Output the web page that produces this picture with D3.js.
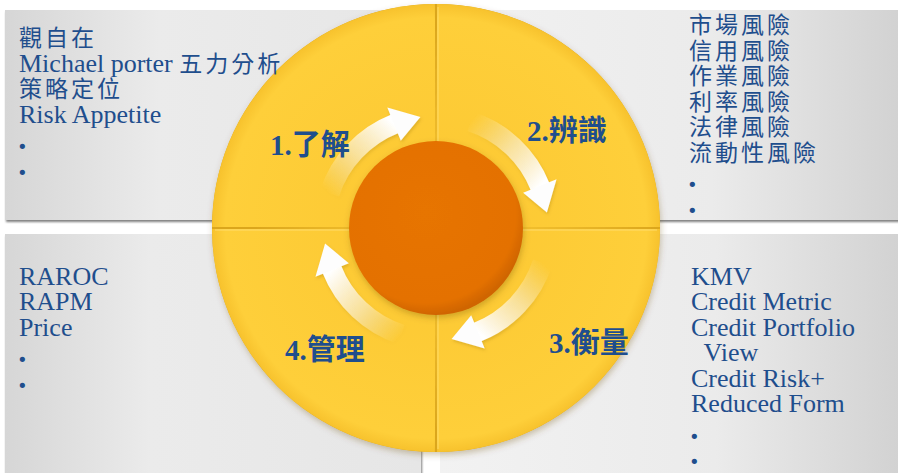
<!DOCTYPE html>
<html>
<head>
<meta charset="utf-8">
<script src="https://cdn.jsdelivr.net/npm/d3@7"></script>
<style>
  html, body { margin: 0; padding: 0; background: #ffffff; }
  svg { display: block; }
</style>
</head>
<body>
<svg id="chart" width="898" height="473"></svg>
<script>
var width = 898;
var height = 473;

// diagram content
var stages = ['1.了解', '2.辨識', '3.衡量', '4.管理'];
var topLeftItems = ['觀自在', 'Michael porter 五力分析', '策略定位', 'Risk Appetite', '•', '•'];
var topRightItems = ['市場風險', '信用風險', '作業風險', '利率風險', '法律風險', '流動性風險', '•', '•'];
var bottomLeftItems = ['RAROC', 'RAPM', 'Price', '•', '•'];
var bottomRightItems = ['KMV', 'Credit Metric', 'Credit Portfolio', '  View', 'Credit Risk+', 'Reduced Form', '•', '•'];

var cx = 436, cy = 228;
var outerR = 224, innerR = 87;
var textColor = '#1f4e8d';

var svg = d3.select('#chart');
var defs = svg.append('defs');

// ---- filters / gradients
var sh = defs.append('filter').attr('id', 'panelShadow')
  .attr('x', '-5%').attr('y', '-5%').attr('width', '110%').attr('height', '115%');
sh.append('feDropShadow').attr('dx', 1).attr('dy', 2).attr('stdDeviation', 1.2)
  .attr('flood-color', '#000').attr('flood-opacity', 0.5);

var cs = defs.append('filter').attr('id', 'circleShadow')
  .attr('x', '-10%').attr('y', '-10%').attr('width', '120%').attr('height', '120%');
cs.append('feDropShadow').attr('dx', 1).attr('dy', 3).attr('stdDeviation', 3)
  .attr('flood-color', '#6b4a00').attr('flood-opacity', 0.3);

var as = defs.append('filter').attr('id', 'arrowShadow')
  .attr('x', '-20%').attr('y', '-20%').attr('width', '140%').attr('height', '140%');
as.append('feDropShadow').attr('dx', 1).attr('dy', 2).attr('stdDeviation', 1.5)
  .attr('flood-color', '#8a6000').attr('flood-opacity', 0.25);

var gl = defs.append('linearGradient').attr('id', 'panelLeft')
  .attr('x1', '0%').attr('x2', '100%').attr('y1', '0%').attr('y2', '0%');
gl.append('stop').attr('offset', '0%').attr('stop-color', '#d6d6d6');
gl.append('stop').attr('offset', '35%').attr('stop-color', '#ebebeb');
gl.append('stop').attr('offset', '100%').attr('stop-color', '#e6e6e6');

var gr = defs.append('linearGradient').attr('id', 'panelRight')
  .attr('x1', '0%').attr('x2', '100%').attr('y1', '0%').attr('y2', '0%');
gr.append('stop').attr('offset', '0%').attr('stop-color', '#f2f2f2');
gr.append('stop').attr('offset', '60%').attr('stop-color', '#ebebeb');
gr.append('stop').attr('offset', '100%').attr('stop-color', '#d2d2d2');

var gy = defs.append('radialGradient').attr('id', 'yellow')
  .attr('cx', 0).attr('cy', 0).attr('r', outerR).attr('gradientUnits', 'userSpaceOnUse');
gy.append('stop').attr('offset', '0%').attr('stop-color', '#fcc731');
gy.append('stop').attr('offset', '94%').attr('stop-color', '#fecf3a');
gy.append('stop').attr('offset', '100%').attr('stop-color', '#f7c22d');

var go = defs.append('radialGradient').attr('id', 'orange')
  .attr('cx', -10).attr('cy', -15).attr('r', innerR + 15).attr('gradientUnits', 'userSpaceOnUse');
go.append('stop').attr('offset', '0%').attr('stop-color', '#e77400');
go.append('stop').attr('offset', '88%').attr('stop-color', '#e47100');
go.append('stop').attr('offset', '100%').attr('stop-color', '#d06500');

// ---- background panels
svg.append('rect').attr('x', 5).attr('y', 10).attr('width', 440).attr('height', 210)
  .attr('fill', 'url(#panelLeft)').attr('filter', 'url(#panelShadow)');
svg.append('rect').attr('x', 430).attr('y', 10).attr('width', 470).attr('height', 210)
  .attr('fill', 'url(#panelRight)').attr('filter', 'url(#panelShadow)');
svg.append('rect').attr('x', 5).attr('y', 234).attr('width', 416).attr('height', 245)
  .attr('fill', 'url(#panelLeft)').attr('filter', 'url(#panelShadow)');
svg.append('rect').attr('x', 440).attr('y', 234).attr('width', 460).attr('height', 245)
  .attr('fill', 'url(#panelRight)');

// ---- big circle in four quadrants
svg.append('circle').attr('cx', cx).attr('cy', cy).attr('r', outerR)
  .attr('fill', '#dba61f').attr('filter', 'url(#circleShadow)');

var quadArc = d3.arc()
  .innerRadius(0).outerRadius(outerR)
  .padAngle(2.2 / outerR).padRadius(outerR);

var center = svg.append('g').attr('transform', 'translate(' + cx + ',' + cy + ')');
center.selectAll('path.quad').data(d3.range(4)).enter().append('path')
  .attr('class', 'quad')
  .attr('d', function(i) {
    return quadArc({ startAngle: (i - 1) * Math.PI / 2, endAngle: i * Math.PI / 2 });
  })
  .attr('fill', 'url(#yellow)');

// light highlight beside each divider
var hl = center.append('g').attr('stroke', '#ffe07a').attr('stroke-width', 1).attr('opacity', 0.8);
hl.append('line').attr('x1', 2).attr('x2', 2).attr('y1', -outerR + 3).attr('y2', outerR - 3);
hl.append('line').attr('x1', -outerR + 3).attr('x2', outerR - 3).attr('y1', 2).attr('y2', 2);

// ---- curved arrows (local coords around the centre)
function polar(r, deg) {
  var a = deg * Math.PI / 180;
  return [r * Math.sin(a), -r * Math.cos(a)];
}
var rm = 112, shaftHalf = 10, headHalf = 18;
var shaftArc = d3.arc().innerRadius(rm - shaftHalf).outerRadius(rm + shaftHalf);

stages.forEach(function(s, i) {
  var a0 = i * 90 - 72, ab = i * 90 - 22, at = i * 90 - 8;
  var p0 = polar(rm, a0), p1 = polar(rm, ab);
  var g = defs.append('linearGradient').attr('id', 'arrowGrad' + i)
    .attr('gradientUnits', 'userSpaceOnUse')
    .attr('x1', p0[0]).attr('y1', p0[1]).attr('x2', p1[0]).attr('y2', p1[1]);
  g.append('stop').attr('offset', '0%').attr('stop-color', '#fff3c8').attr('stop-opacity', 0);
  g.append('stop').attr('offset', '50%').attr('stop-color', '#fff6dc').attr('stop-opacity', 0.6);
  g.append('stop').attr('offset', '100%').attr('stop-color', '#ffffff').attr('stop-opacity', 1);

  var ag = center.append('g').attr('filter', 'url(#arrowShadow)');
  ag.append('path')
    .attr('d', shaftArc({ startAngle: a0 * Math.PI / 180, endAngle: (ab + 0.5) * Math.PI / 180 }))
    .attr('fill', 'url(#arrowGrad' + i + ')');
  var head = [polar(rm + headHalf, ab), polar(rm, at), polar(rm - headHalf, ab)];
  ag.append('path')
    .attr('d', d3.line()(head) + 'Z')
    .attr('fill', '#fdfdfd');
});

// ---- orange centre
center.append('circle').attr('r', innerR)
  .attr('fill', 'url(#orange)').attr('filter', 'url(#circleShadow)');

// ---- stage labels
var labelPos = [[310, 155], [567, 141], [589, 353], [325, 360]];
svg.append('g').selectAll('text').data(stages).enter().append('text')
  .attr('x', function(d, i) { return labelPos[i][0]; })
  .attr('y', function(d, i) { return labelPos[i][1]; })
  .attr('text-anchor', 'middle')
  .attr('font-family', '"Liberation Serif", "Noto Sans CJK TC", serif')
  .attr('font-weight', 'bold')
  .attr('font-size', 29)
  .attr('fill', textColor)
  .text(function(d) { return d; });

// ---- text lists
var cjk = /([\u3000-\u9fff]+)/;
function writeList(items, x, y0, step) {
  var g = svg.append('g').attr('fill', textColor);
  items.forEach(function(item, i) {
    var t = g.append('text').attr('x', x).attr('y', y0 + i * step)
      .attr('font-family', '"Liberation Serif", "Times New Roman", serif')
      .attr('font-size', 26)
      .attr('xml:space', 'preserve')
      .style('white-space', 'pre');
    if (item === '•') {
      t.attr('font-family', '"DejaVu Sans", sans-serif')
        .attr('font-size', 18).attr('x', x - 2).attr('y', y0 + i * step + 5).text(item);
      return;
    }
    item.split(cjk).forEach(function(part) {
      if (!part) return;
      var ts = t.append('tspan').text(part);
      if (cjk.test(part)) {
        ts.attr('font-family', '"Noto Sans CJK TC", sans-serif')
          .attr('font-size', 23)
          .attr('letter-spacing', 3);
      }
    });
  });
}

writeList(topLeftItems, 19, 46, 25.5);
writeList(topRightItems, 689, 33, 25.5);
writeList(bottomLeftItems, 19, 284.5, 25.5);
writeList(bottomRightItems, 691, 284.5, 25.5);
</script>
</body>
</html>
